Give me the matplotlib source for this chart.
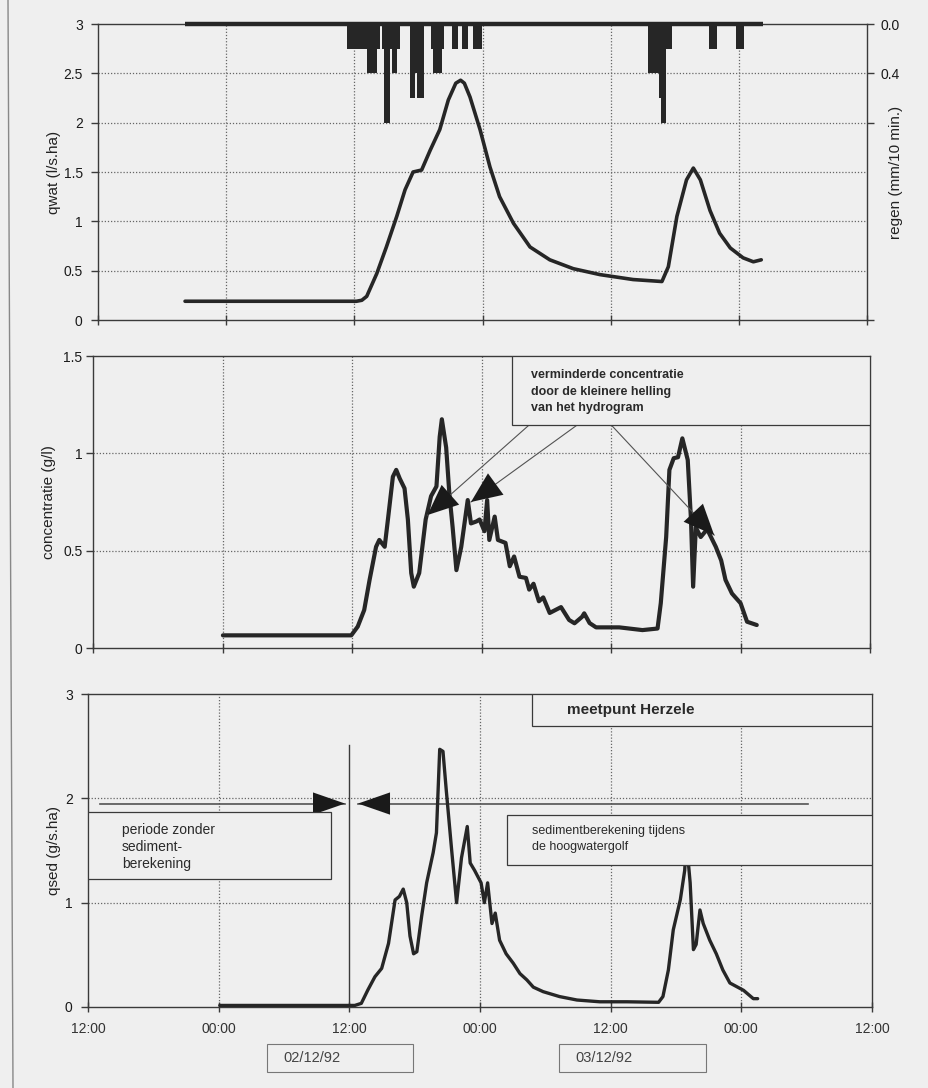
import matplotlib
matplotlib.use("Agg")
import matplotlib.pyplot as plt
from matplotlib.patches import Rectangle
from matplotlib.lines import Line2D
import numpy as np

plt.rcParams['font.family'] = ['Liberation Sans', 'DejaVu Sans']

# ---------------- data (x = hours since 01/12/92 12:00) ----------------
tick_hours = [0, 12, 24, 36, 48, 60, 72]
tick_labels = ['12:00', '00:00', '12:00', '00:00', '12:00', '00:00', '12:00']
date_labels = ['02/12/92', '03/12/92']

rain_period = [8.15, 62.3]
rain_start = [23.3, 25.2, 26.1, 26.6, 26.8, 27.3, 27.5, 28.0, 29.2, 29.7, 29.85,
              31.2, 31.4, 32.2, 33.1, 34.05, 35.1,
              51.5, 52.55, 52.7, 53.2, 57.2, 59.7]
rain_end = [25.2, 26.1, 26.4, 26.8, 27.3, 27.5, 28.0, 28.3, 29.7, 29.85, 30.5,
            31.4, 32.2, 32.35, 33.75, 34.6, 35.95,
            52.55, 52.7, 53.2, 53.7, 58.0, 60.5]
rain_mm = [0.2, 0.4, 0.2, 0.2, 0.8, 0.2, 0.4, 0.2, 0.6, 0.4, 0.6,
           0.2, 0.4, 0.2, 0.2, 0.2, 0.2,
           0.4, 0.6, 0.8, 0.2, 0.2, 0.2]

qwat_t = [8.15, 16.0, 24.2, 24.7, 25.16, 26.1, 27.0, 27.97, 28.75, 29.5, 30.3,
          31.1, 32.0, 32.8, 33.5, 33.95, 34.3, 34.83, 35.77, 36.7, 37.6, 38.9,
          40.45, 42.3, 44.5, 47.0, 50.1, 52.8, 53.4, 54.2, 55.1, 55.74, 56.4,
          57.3, 58.2, 59.2, 60.4, 61.36, 62.1]
qwat_v = [0.19, 0.19, 0.19, 0.20, 0.24, 0.47, 0.74, 1.05, 1.32, 1.50, 1.52,
          1.72, 1.93, 2.23, 2.40, 2.43, 2.40, 2.26, 1.93, 1.55, 1.25, 0.98,
          0.74, 0.61, 0.52, 0.46, 0.41, 0.39, 0.54, 1.05, 1.42, 1.54, 1.42,
          1.11, 0.88, 0.73, 0.63, 0.59, 0.61]

conc_t = [12.0, 23.9, 24.5, 25.1, 25.6, 26.2, 26.5, 27.0, 27.3, 27.76, 28.07,
          28.4, 28.84, 29.15, 29.46, 29.7, 30.2, 30.8, 31.3, 31.8, 32.1, 32.3,
          32.7, 33.0, 33.3, 33.65, 34.1, 34.7, 35.0, 35.5, 35.8, 36.25, 36.5,
          36.7, 37.2, 37.5, 38.2, 38.6, 39.0, 39.5, 40.1, 40.4, 40.8, 41.3,
          41.7, 42.3, 43.35, 44.1, 44.6, 45.3, 45.5, 46.0, 46.6, 48.75, 50.9,
          52.3, 52.6, 53.1, 53.4, 53.8, 54.2, 54.6, 55.1, 55.4, 55.6, 55.85,
          56.3, 56.9, 57.7, 58.2, 58.6, 59.2, 60.0, 60.6, 61.5]
conc_v = [0.065, 0.065, 0.11, 0.195, 0.35, 0.52, 0.555, 0.52, 0.66, 0.88, 0.915,
          0.87, 0.82, 0.66, 0.385, 0.315, 0.385, 0.66, 0.78, 0.83, 1.085, 1.175,
          1.03, 0.79, 0.62, 0.40, 0.52, 0.76, 0.64, 0.65, 0.66, 0.60, 0.76,
          0.555, 0.675, 0.555, 0.54, 0.42, 0.47, 0.366, 0.36, 0.30, 0.33, 0.24,
          0.26, 0.18, 0.21, 0.144, 0.127, 0.16, 0.178, 0.128, 0.106, 0.106, 0.092,
          0.10, 0.23, 0.57, 0.915, 0.975, 0.98, 1.077, 0.966, 0.66, 0.315, 0.62,
          0.57, 0.61, 0.52, 0.45, 0.35, 0.28, 0.23, 0.135, 0.118]

qsed_t = [12.1, 24.5, 25.1, 25.7, 26.35, 26.97, 27.6, 28.2, 28.6, 28.95, 29.27,
          29.57, 29.9, 30.2, 30.64, 31.1, 31.7, 32.0, 32.3, 32.6, 32.9, 33.4,
          33.85, 34.3, 34.83, 35.1, 35.5, 36.1, 36.4, 36.7, 37.1, 37.4, 37.8,
          38.4, 39.05, 39.67, 40.3, 40.9, 41.8, 43.3, 44.9, 47.0, 49.5, 52.4,
          52.8, 53.3, 53.75, 54.4, 54.8, 54.95, 55.3, 55.6, 55.85, 56.2, 56.5,
          57.1, 57.7, 58.3, 58.95, 60.2, 61.1, 61.5]
qsed_v = [0.015, 0.015, 0.035, 0.163, 0.29, 0.37, 0.61, 1.026, 1.06, 1.13, 1.0,
          0.68, 0.51, 0.53, 0.87, 1.19, 1.48, 1.67, 2.47, 2.45, 2.08, 1.5,
          1.0, 1.43, 1.73, 1.38, 1.31, 1.19, 1.0, 1.19, 0.8, 0.9, 0.64,
          0.51, 0.42, 0.32, 0.26, 0.19, 0.147, 0.10, 0.067, 0.05, 0.05, 0.045,
          0.10, 0.355, 0.74, 1.03, 1.31, 1.6, 1.19, 0.55, 0.6, 0.93, 0.8,
          0.64, 0.51, 0.355, 0.23, 0.16, 0.08, 0.08]

# ---------------- style ----------------
BG = '#efefef'
INK = '#262626'
SP = '#3a3a3a'
GRID = dict(color='#666666', linestyle=(0, (1, 1.5)), linewidth=0.9)
W, H = 929, 1088

fig = plt.figure(figsize=(W / 100, H / 100), dpi=100, facecolor=BG)


def px_axes(l, r, t, b):
    return fig.add_axes([l / W, 1 - b / H, (r - l) / W, (b - t) / H])


def style(ax, ylim, yticks, yticklabels, ypad=4):
    ax.set_facecolor('none')
    ax.set_xlim(0, 72)
    ax.set_ylim(*ylim)
    ax.set_xticks(tick_hours)
    ax.set_yticks(yticks)
    ax.set_yticklabels(yticklabels)
    for s in ax.spines.values():
        s.set_color(SP)
        s.set_linewidth(1.0)
    ax.tick_params(axis='x', direction='inout', length=7, width=1, color=SP,
                   labelsize=10, labelcolor='#333333', pad=7)
    ax.tick_params(axis='y', direction='out', length=5, width=1, color=SP,
                   labelsize=10, labelcolor='#1a1a1a', pad=ypad)
    for y in yticks[1:-1]:
        ax.axhline(y, zorder=0.5, **GRID)


LBL = dict(fontsize=11, color='#222222')

# ---------------- top panel ----------------
ax1 = px_axes(98, 867, 24, 320)
style(ax1, (0, 3), [0, 0.5, 1, 1.5, 2, 2.5, 3], ['0', '0.5', '1', '1.5', '2', '2.5', '3'], ypad=6)
ax1.set_xticklabels([])
for h in tick_hours[1:-1]:
    ax1.axvline(h, zorder=0.5, **GRID)
ax1.plot(qwat_t, qwat_v, color=INK, lw=2.6, solid_capstyle='round', zorder=3)
ax1.set_ylabel('qwat (l/s.ha)', **LBL)
ax1.yaxis.set_label_coords(-0.048, 0.5)

ax1r = ax1.twinx()
ax1r.set_ylim(2.4, 0)
ax1r.set_yticks([0, 0.4, 0.8, 2.4])
ax1r.set_yticklabels(['0.0', '0.4', '', ''])
ax1r.tick_params(axis='y', direction='out', length=5, width=1, color=SP,
                 labelsize=10, labelcolor='#1a1a1a', pad=5)
for s in ax1r.spines.values():
    s.set_visible(False)
widths = np.array(rain_end) - np.array(rain_start)
ax1r.bar(rain_start, rain_mm, width=widths, align='edge', color=INK,
         edgecolor='none', zorder=3)
ax1r.hlines(0, rain_period[0], rain_period[1], color=INK, lw=3.2,
            clip_on=False, zorder=4)
ax1r.set_ylabel('regen (mm/10 min.)', **LBL)
ax1r.yaxis.set_label_coords(1.029, 0.5)

# ---------------- middle panel ----------------
ax2 = px_axes(93.5, 870, 356, 648)
style(ax2, (0, 1.5), [0, 0.5, 1, 1.5], ['0', '0.5', '1', '1.5'], ypad=3)
ax2.set_xticklabels([])
for h in tick_hours[1:-1]:
    ax2.axvline(h, zorder=0.5, **GRID)
ax2.plot(conc_t, conc_v, color=INK, lw=3.0, solid_joinstyle='round',
         solid_capstyle='round', zorder=3)
ax2.set_ylabel('concentratie (g/l)', **LBL)
ax2.yaxis.set_label_coords(-0.048, 0.5)

ax2.add_patch(Rectangle((38.8, 1.146), 72 - 38.8, 1.5 - 1.146, facecolor=BG,
                        edgecolor=SP, lw=0.9, zorder=5))
ax2.text(40.6, 1.432, 'verminderde concentratie\ndoor de kleinere helling\nvan het hydrogram',
         fontsize=9, fontweight='bold', color='#2a2a2a', va='top', ha='left',
         linespacing=1.48, zorder=6)
arrows_mid = [((40.4, 1.146), (30.97, 0.683)),
              ((44.86, 1.146), (35.0, 0.75)),
              ((48.0, 1.146), (57.55, 0.58))]
for (x0, y0), (x1, y1) in arrows_mid:
    ax2.plot([x0, x1], [y0, y1], color='#555555', lw=0.8, zorder=4)
    ax2.annotate('', xy=(x1, y1), xytext=(x0, y0),
                 arrowprops=dict(arrowstyle='-|>,head_length=2.2,head_width=0.95',
                                 mutation_scale=10, color='#1a1a1a', lw=0.01,
                                 shrinkA=0, shrinkB=0), zorder=4)

# ---------------- bottom panel ----------------
ax3 = px_axes(88, 872, 694, 1007)
style(ax3, (0, 3), [0, 1, 2, 3], ['0', '1', '2', '3'], ypad=6)
ax3.set_xticklabels(tick_labels)
for h in [12, 36, 48, 60]:
    ax3.axvline(h, zorder=0.5, **GRID)
ax3.plot([24, 24], [0, 2.51], color=SP, lw=1.0, zorder=2)
ax3.plot(qsed_t, qsed_v, color=INK, lw=2.4, solid_joinstyle='round',
         solid_capstyle='round', zorder=3)
ax3.set_ylabel('qsed (g/s.ha)', **LBL)
ax3.yaxis.set_label_coords(-0.034, 0.5)

# horizontal arrows
ax3.plot([1.1, 23.6], [1.95, 1.95], color='#555555', lw=1.2, zorder=2)
ax3.plot([24.8, 66.1], [1.95, 1.95], color='#555555', lw=1.2, zorder=2)
for x0, x1 in [(1.1, 23.6), (66.1, 24.8)]:
    ax3.annotate('', xy=(x1, 1.95), xytext=(x0, 1.95),
                 arrowprops=dict(arrowstyle='-|>,head_length=2.3,head_width=0.8',
                                 mutation_scale=10, color='#1a1a1a', lw=0.01,
                                 shrinkA=0, shrinkB=0), zorder=4)

ax3.add_patch(Rectangle((0, 1.23), 22.3, 1.87 - 1.23, facecolor=BG,
                        edgecolor=SP, lw=0.9, zorder=5))
ax3.text(3.1, 1.765, 'periode zonder\nsediment-\nberekening', fontsize=10,
         color='#2a2a2a', va='top', ha='left', linespacing=1.3, zorder=6)

ax3.add_patch(Rectangle((40.8, 2.69), 72 - 40.8, 3 - 2.69, facecolor=BG,
                        edgecolor=SP, lw=0.9, zorder=5))
ax3.text(43.96, 2.85, 'meetpunt Herzele', fontsize=11, fontweight='bold',
         color='#2a2a2a', va='center', ha='left', zorder=6)

ax3.add_patch(Rectangle((38.5, 1.36), 72 - 38.5, 1.84 - 1.36, facecolor=BG,
                        edgecolor=SP, lw=0.9, zorder=5))
ax3.text(40.8, 1.745, 'sedimentberekening tijdens\nde hoogwatergolf', fontsize=9,
         color='#2a2a2a', va='top', ha='left', linespacing=1.45, zorder=6)

# date boxes under the axis
trans = ax3.get_xaxis_transform()
for (xa, xb), lab in zip([(16.4, 29.85), (43.3, 56.75)], date_labels):
    ax3.add_patch(Rectangle((xa, -0.207), xb - xa, 0.089, transform=trans,
                            facecolor=BG, edgecolor='#777777', lw=0.8,
                            clip_on=False, zorder=5))
    ax3.text(xa + 1.5, -0.163, lab, transform=trans, fontsize=10.5,
             color='#444444', va='center', ha='left', clip_on=False, zorder=6)

# page frame line on the left
fig.add_artist(Line2D([8 / W, 13 / W], [1.0, 0.0], color='#888888', lw=1.0))

fig.savefig('out.png', dpi=100, facecolor=BG)
